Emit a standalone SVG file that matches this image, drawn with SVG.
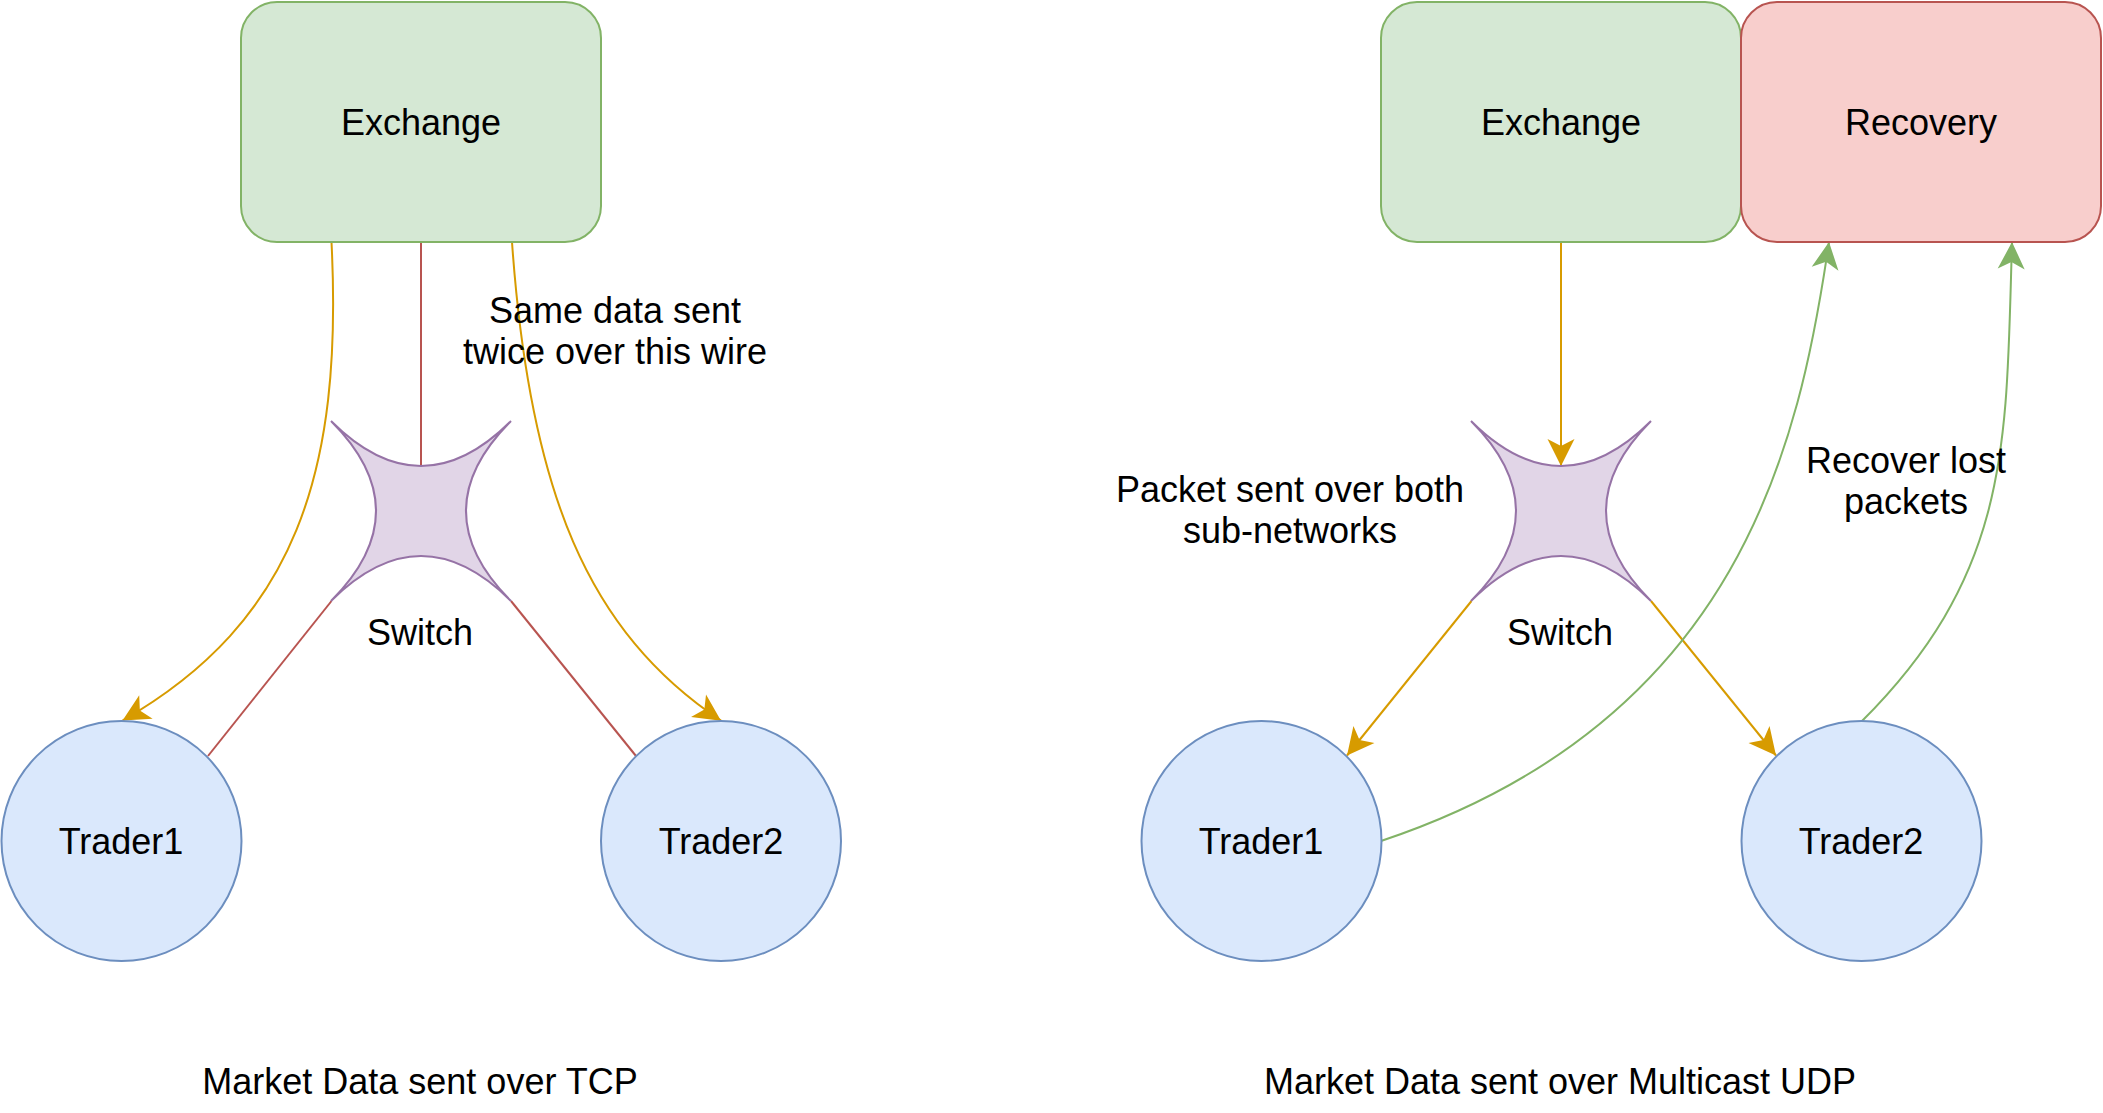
<svg xmlns="http://www.w3.org/2000/svg" width="2103" height="1113" viewBox="0 0 2103 1113">
<style>
text{font-family:"Liberation Sans",Arial,Helvetica,sans-serif;font-size:36px;fill:#000;text-anchor:middle}
.ex{fill:#d5e8d4;stroke:#82b366;stroke-width:2}
.rec{fill:#f8cecc;stroke:#b85450;stroke-width:2}
.tr{fill:#dae8fc;stroke:#6c8ebf;stroke-width:2}
.sw{fill:#e1d5e7;stroke:#9673a6;stroke-width:2}
.ey{fill:none;stroke:#d79b00;stroke-width:2}
.er{fill:none;stroke:#b85450;stroke-width:2}
.eg{fill:none;stroke:#82b366;stroke-width:2}
</style>
<defs>
<marker id="aY" markerUnits="userSpaceOnUse" markerWidth="30" markerHeight="30" viewBox="-28 -15 30 30" refX="0" refY="0" orient="auto" overflow="visible"><path d="M0,0 L-27,-13.5 L-20,0 L-27,13.5 Z" fill="#d79b00"/></marker>
<marker id="aG" markerUnits="userSpaceOnUse" markerWidth="30" markerHeight="30" viewBox="-28 -15 30 30" refX="0" refY="0" orient="auto" overflow="visible"><path d="M0,0 L-27,-13.5 L-20,0 L-27,13.5 Z" fill="#82b366"/></marker>
</defs>
<g id="connectors">
<path class="er" d="M421,242 L421,466"/>
<path class="er" d="M331.5,601 L208,756"/>
<path class="er" d="M511,601 L636,756"/>
<path class="ey" marker-end="url(#aY)" d="M331.5,242 C343,472 296,621 122.5,720.5"/>
<path class="ey" marker-end="url(#aY)" d="M512,242 C529.5,492 588,632 721,720.7"/>
<path class="ey" marker-end="url(#aY)" d="M1561,242 L1561,466"/>
<path class="ey" marker-end="url(#aY)" d="M1471.5,601 L1347,755.5"/>
<path class="ey" marker-end="url(#aY)" d="M1651,601 L1776,755.5"/>
<path class="eg" marker-end="url(#aG)" d="M1381,841 C1741,721 1799.8,442 1829,242"/>
<path class="eg" marker-end="url(#aG)" d="M1862,721 C2012,571 2006,442 2012,242"/>
</g>
<g id="exchange-tcp"><rect class="ex" x="241" y="2" width="360" height="240" rx="36" ry="36"/><text x="421" y="135">Exchange</text></g>
<g id="switch-tcp"><path class="sw" d="M331,421 Q421,511 511,421 Q421,511 511,601 Q421,511 331,601 Q421,511 331,421 Z"/><text x="420" y="645">Switch</text></g>
<g id="trader1-tcp"><circle class="tr" cx="121.5" cy="841" r="120"/><text x="121" y="854">Trader1</text></g>
<g id="trader2-tcp"><circle class="tr" cx="721" cy="841" r="120"/><text x="721" y="854">Trader2</text></g>
<g id="label-same"><text x="615" y="323">Same data sent</text><text x="615" y="364">twice over this wire</text></g>
<g id="title-tcp"><text x="420" y="1094">Market Data sent over TCP</text></g>
<g id="exchange-udp"><rect class="ex" x="1381" y="2" width="360" height="240" rx="36" ry="36"/><text x="1561" y="135">Exchange</text></g>
<g id="recovery"><rect class="rec" x="1741" y="2" width="360" height="240" rx="36" ry="36"/><text x="1921" y="135">Recovery</text></g>
<g id="switch-udp"><path class="sw" d="M1471,421 Q1561,511 1651,421 Q1561,511 1651,601 Q1561,511 1471,601 Q1561,511 1471,421 Z"/><text x="1560" y="645">Switch</text></g>
<g id="trader1-udp"><circle class="tr" cx="1261.5" cy="841" r="120"/><text x="1261" y="854">Trader1</text></g>
<g id="trader2-udp"><circle class="tr" cx="1861.5" cy="841" r="120"/><text x="1861" y="854">Trader2</text></g>
<g id="label-packet"><text x="1290" y="502">Packet sent over both</text><text x="1290" y="543">sub-networks</text></g>
<g id="label-recover"><text x="1906" y="473">Recover lost</text><text x="1906" y="514">packets</text></g>
<g id="title-udp"><text x="1560" y="1094">Market Data sent over Multicast UDP</text></g>
</svg>
